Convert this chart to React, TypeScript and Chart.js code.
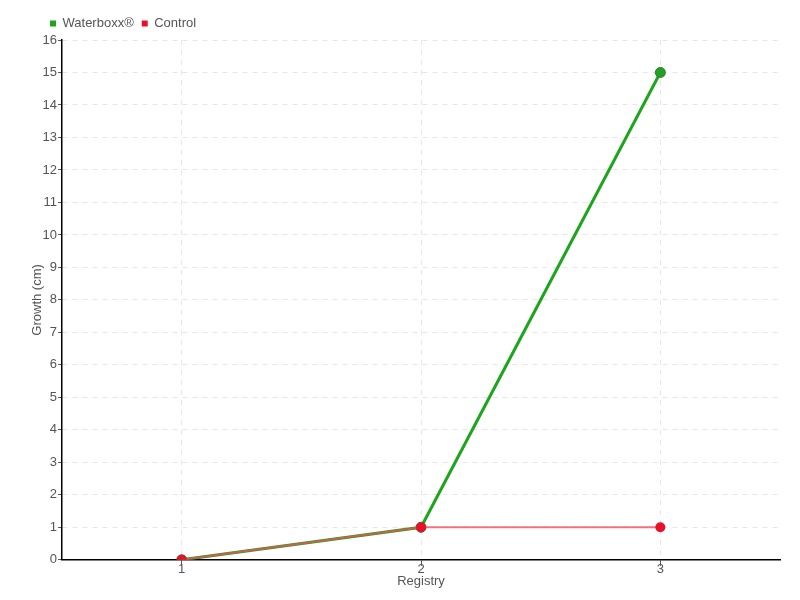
import React, { useEffect, useRef } from "react";
import { Chart, registerables } from "chart.js";

Chart.register(...registerables);

const categories = ["1", "2", "3"];
const waterboxx = [0, 1, 15];
const control = [0, 1, 1];

const FONT = "'Liberation Sans', 'Roboto', sans-serif";

const shiftLegend = {
  id: "shiftLegend",
  afterLayout(chart: any) {
    if (chart.legend) {
      chart.legend.left += 12;
      chart.legend.right += 12;
    }
  },
};

export default function App() {
  const ref = useRef<HTMLCanvasElement>(null);
  useEffect(() => {
    document.body.style.margin = "0";
    const chart = new Chart(ref.current!, {
      type: "line",
      data: {
        labels: categories,
        datasets: [
          {
            label: "Waterboxx®",
            data: waterboxx,
            borderColor: "#1ea51e",
            backgroundColor: "#1ea51e",
            pointBackgroundColor: "#22a022",
            pointBorderColor: "#2d7a2d",
            pointBorderWidth: 1,
            pointRadius: 5,
            borderWidth: 3,
            order: 1,
          },
          {
            label: "Control",
            data: control,
            borderColor: "rgba(240,80,90,0.8)",
            backgroundColor: "#e8102a",
            pointBackgroundColor: "#e8102a",
            pointBorderColor: "#e8102a",
            pointRadius: 4,
            borderWidth: 2,
            order: 0,
          },
        ],
      },
      plugins: [shiftLegend],
      options: {
        animation: false,
        responsive: false,
        layout: { padding: { left: 30, right: 20, top: 9, bottom: 11 } },
        plugins: {
          legend: {
            align: "start",
            labels: {
              boxWidth: 6,
              boxHeight: 6,
              padding: 8,
              color: "#555",
              font: { family: FONT, size: 13 },
              sort: (a: any, b: any) => a.datasetIndex - b.datasetIndex,
              generateLabels: (c: any) => {
                const items = Chart.defaults.plugins.legend.labels.generateLabels(c);
                items.forEach((it: any) => {
                  it.strokeStyle = it.fillStyle;
                  it.lineWidth = 0;
                });
                return items;
              },
            },
          },
          tooltip: { enabled: false },
        },
        scales: {
          x: {
            offset: true,
            title: { display: true, text: "Registry", color: "#555", font: { family: FONT, size: 13 }, padding: { top: 0, bottom: 0 } },
            ticks: { color: "#555", font: { family: FONT, size: 13 }, padding: -4 },
            grid: { color: "#e6e6e6", tickColor: "#555", tickLength: 6, offset: false },
            border: { color: "#000", width: 1.5, dash: [5, 5] },
          },
          y: {
            min: 0,
            max: 16,
            title: { display: true, text: "Growth (cm)", color: "#555", font: { family: FONT, size: 13 }, padding: { top: 0, bottom: -4 } },
            ticks: { stepSize: 1, color: "#555", font: { family: FONT, size: 13 }, padding: 1 },
            grid: { color: "#e6e6e6", tickColor: "#555", tickLength: 4 },
            border: { color: "#000", width: 1.5, dash: [5, 5] },
          },
        },
      },
    });
    return () => chart.destroy();
  }, []);
  return <canvas ref={ref} width={800} height={600} style={{ width: 800, height: 600, display: "block" }} />;
}
